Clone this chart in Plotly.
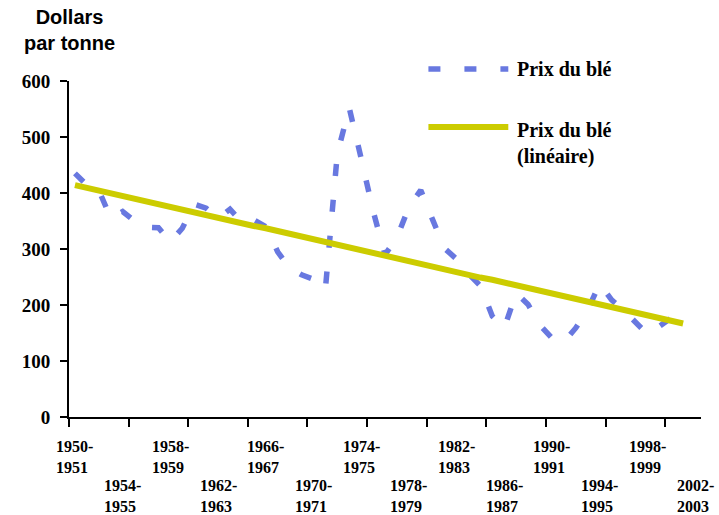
import plotly.graph_objects as go

# Categories (crop years)
categories = [f"{y}-{y+1}" for y in range(1950, 2003)]

# Wheat price, constant dollars per tonne, 1950-51 .. 2001-02
prix = [435, 414, 405, 355, 367, 350, 339, 338, 313, 337,
        380, 373, 355, 371, 348, 352, 340, 295, 266, 254,
        246, 228, 470, 552, 462, 368, 290, 320, 375, 405,
        352, 301, 282, 256, 234, 180, 159, 221, 201, 164,
        141, 134, 159, 191, 238, 209, 191, 171, 148, 162,
        177, 192]

# Linear trend as drawn in the picture
tendance = [414, 409, 404, 399, 395, 390, 385, 380, 375, 370,
            366, 361, 356, 351, 346, 341, 337, 332, 327, 322,
            317, 312, 308, 303, 298, 293, 288, 283, 279, 274,
            269, 264, 259, 254, 249, 245, 240, 235, 230, 225,
            220, 216, 211, 206, 201, 196, 191, 187, 182, 177,
            172, 167]

y_ticks = [0, 100, 200, 300, 400, 500, 600]
label_every = 4
tick_every = 5

BLUE = "#6878E0"
YELLOW = "#CCCC00"
SERIF = "Liberation Serif"

xs = list(range(len(prix)))

fig = go.Figure()
fig.add_trace(go.Scatter(x=xs, y=prix, mode="lines",
                         line=dict(color=BLUE, width=5.5, dash="12px,24px"),
                         showlegend=False, hoverinfo="skip"))
fig.add_trace(go.Scatter(x=list(range(len(tendance))), y=tendance, mode="lines",
                         line=dict(color=YELLOW, width=6),
                         showlegend=False, hoverinfo="skip"))

n = len(categories)
fig.update_xaxes(range=[-0.5, n - 0.5], showgrid=False, zeroline=False,
                 showline=True, linecolor="black", linewidth=2,
                 tickmode="array",
                 tickvals=[i - 0.5 for i in range(0, n, tick_every)],
                 ticktext=["" for _ in range(0, n, tick_every)],
                 ticks="outside", ticklen=8, tickwidth=2, tickcolor="black")
fig.update_yaxes(range=[0, 600], showgrid=False, zeroline=False,
                 showline=True, linecolor="black", linewidth=2,
                 tickmode="array", tickvals=y_ticks,
                 ticktext=[str(v) for v in y_ticks],
                 ticks="outside", ticklen=7, tickwidth=2, tickcolor="black",
                 ticklabelstandoff=6,
                 tickfont=dict(family=SERIF, size=19, color="black", weight="bold"))

annotations = []
for k, i in enumerate(range(0, n, label_every)):
    a, b = categories[i].split("-")
    row = k % 2
    annotations.append(dict(
        x=i, xref="x", y=-0.058 if row == 0 else -0.172, yref="paper",
        text=f"{a}-<br>{b}", showarrow=False, xanchor="center", yanchor="top",
        align="left", font=dict(family=SERIF, size=16, color="black", weight="bold")))

annotations.append(dict(
    x=0.0, xref="paper", y=1.228, yref="paper", text="Dollars<br>par tonne",
    showarrow=False, xanchor="center", yanchor="top",
    font=dict(family="Liberation Sans", size=20, color="black", weight="bold")))

# legend texts
annotations.append(dict(x=0.706, xref="paper", y=1.036, yref="paper",
                        text="Prix du blé", showarrow=False, xanchor="left", yanchor="middle",
                        font=dict(family=SERIF, size=20, color="black", weight="bold")))
annotations.append(dict(x=0.706, xref="paper", y=0.892, yref="paper",
                        text="Prix du blé<br>(linéaire)", showarrow=False, xanchor="left",
                        yanchor="top", align="left",
                        font=dict(family=SERIF, size=20, color="black", weight="bold")))

shapes = [
    dict(type="line", xref="paper", yref="paper", x0=0.5687, x1=0.6951, y0=1.0357, y1=1.0357,
         line=dict(color=BLUE, width=5.5, dash="12px,24px")),
    dict(type="line", xref="paper", yref="paper", x0=0.5687, x1=0.6951, y0=0.863, y1=0.863,
         line=dict(color=YELLOW, width=6)),
]

fig.update_layout(
    width=719, height=515,
    margin=dict(l=68.6, r=18, t=81, b=98),
    paper_bgcolor="white", plot_bgcolor="white",
    annotations=annotations, shapes=shapes,
    showlegend=False,
)

fig.write_html("out.html", config={"displayModeBar": False},
               post_script="document.body.style.margin='0';document.body.style.overflow='hidden';")
